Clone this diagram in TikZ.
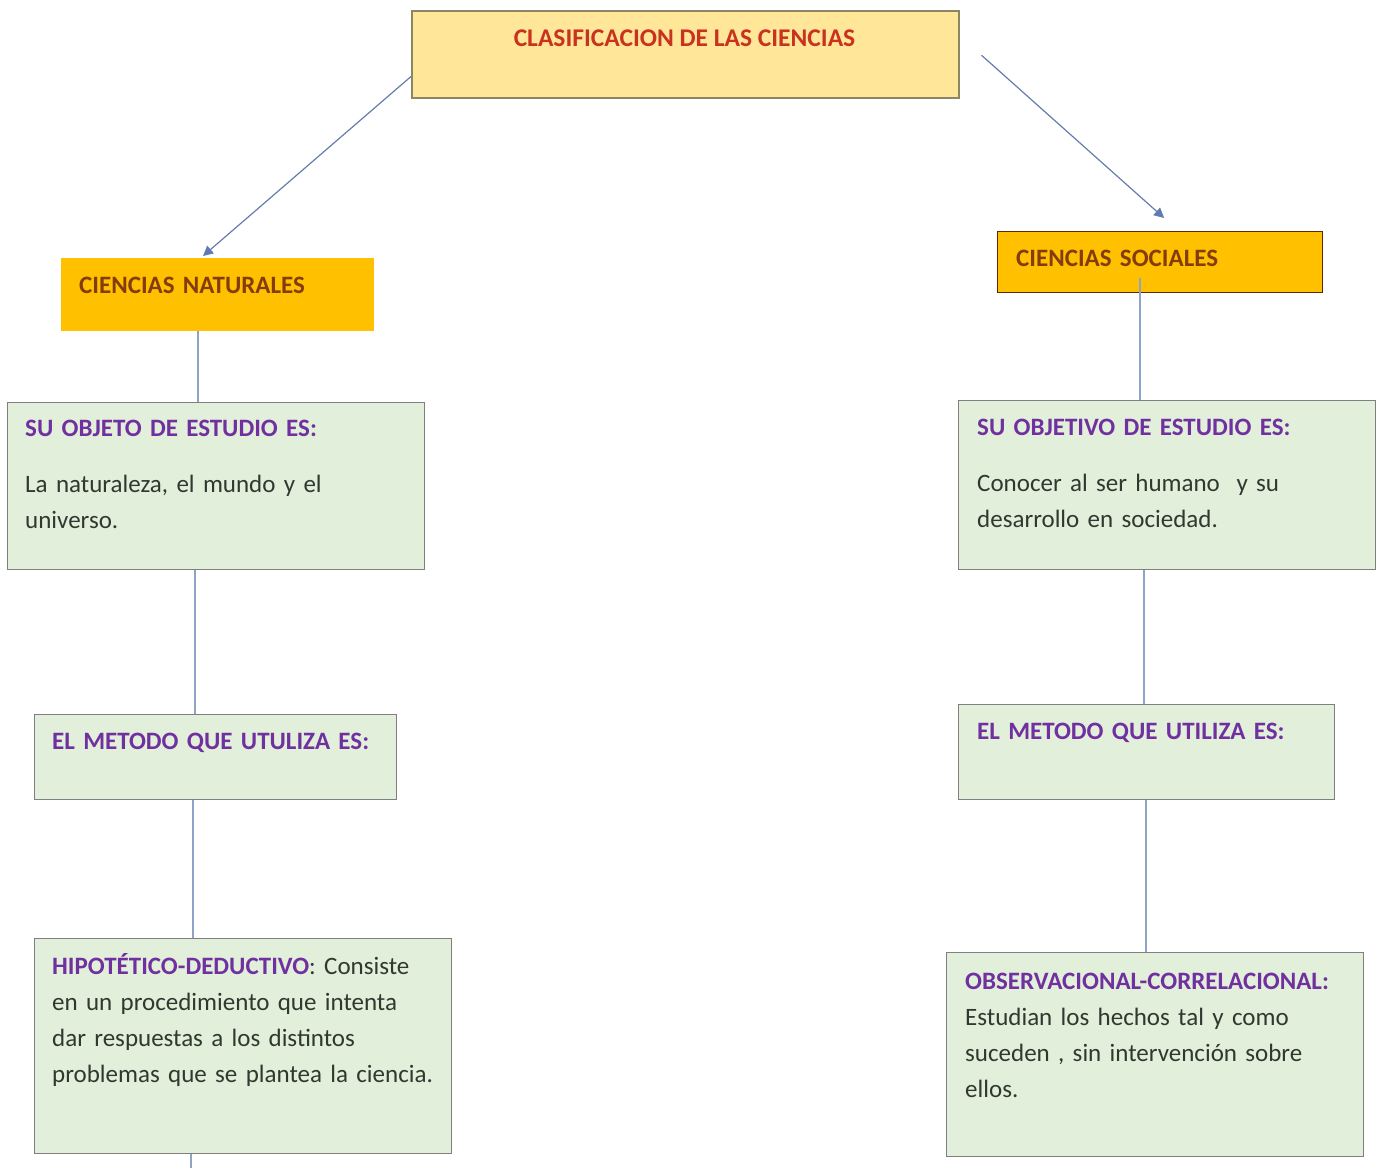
\documentclass[tikz,border=0pt]{standalone}
\usepackage{fontspec}
\setmainfont{Carlito}
\usetikzlibrary{positioning,calc,arrows.meta}
\definecolor{titlefill}{HTML}{FFE699}
\definecolor{titledraw}{HTML}{8C8664}
\definecolor{titletext}{HTML}{C8321E}
\definecolor{orangefill}{HTML}{FFC000}
\definecolor{orangetext}{HTML}{843C0C}
\definecolor{greenfill}{HTML}{E2EFDA}
\definecolor{greendraw}{HTML}{7F7F7F}
\definecolor{headtext}{HTML}{7030A0}
\definecolor{bodytext}{HTML}{303830}
\definecolor{linkline}{HTML}{8FA3C7}
\definecolor{linkarrow}{HTML}{5B7BBF}

\begin{document}
\begin{tikzpicture}[x=1pt, y=-1pt,
    box/.style={rectangle, inner sep=0pt, anchor=north west},
    greenbox/.style={box, fill=greenfill, draw=greendraw, line width=1.2pt},
    orangebox/.style={box, fill=orangefill},
    txt/.style={inner sep=0pt, anchor=base west, text width=#1, align=left,
      font=\fontsize{25}{36}\selectfont, text=bodytext},
    txt/.default=410pt,
    label/.style={txt=300pt, font=\fontsize{25}{36}\selectfont\bfseries, text=orangetext},
    link/.style={draw=linkline, line width=1.2pt},
    arrowlink/.style={draw=linkarrow!70!gray, line width=1.2pt,
      -{Triangle[length=10pt, width=10pt, fill=linkarrow]}}]
  \useasboundingbox (0,0) rectangle (1383,1168);
  % title and the two branches
  \node[box, fill=titlefill, draw=titledraw, line width=1.5pt,
    minimum width=547pt, minimum height=87pt] (titulo) at (411,10) {};
  \node[inner sep=0pt, anchor=base, font=\fontsize{25.5}{36}\selectfont\bfseries,
    text=titletext] (titulotxt) at (684.5,46) {CLASIFICACION DE LAS CIENCIAS};
  \node[orangebox, minimum width=313pt, minimum height=73pt] (nat) at (61,258) {};
  \node[label] (nattxt) at (79,293) {CIENCIAS NATURALES};
  \node[orangebox, draw=orangetext!70!black, line width=1.2pt,
    minimum width=325pt, minimum height=61pt] (soc) at (997,231) {};
  \node[label] (soctxt) at (1016,266) {CIENCIAS SOCIALES};
  % left column
  \node[greenbox, minimum width=417pt, minimum height=167pt] (natobj) at (7,402) {};
  \node[txt] (natobjtxt) at (25,436) {\textcolor{headtext}{\bfseries SU OBJETO DE ESTUDIO ES:}\\[20pt]
    La naturaleza, el mundo y el\\universo.};
  \node[greenbox, minimum width=362pt, minimum height=85pt] (natmet) at (34,714) {};
  \node[txt] (natmettxt) at (52,749) {\textcolor{headtext}{\bfseries EL METODO QUE UTULIZA ES:}};
  \node[greenbox, minimum width=417pt, minimum height=215pt] (nathip) at (34,938) {};
  \node[txt] (nathiptxt) at (52,974) {\textcolor{headtext}{\bfseries HIPOTÉTICO-DEDUCTIVO}: Consiste\\
    en un procedimiento que intenta\\dar respuestas a los distintos\\
    problemas que se plantea la ciencia.};
  % right column
  \node[greenbox, minimum width=417pt, minimum height=169pt] (socobj) at (958,400) {};
  \node[txt] (socobjtxt) at (977,435) {\textcolor{headtext}{\bfseries SU OBJETIVO DE ESTUDIO ES:}\\[20pt]
    Conocer al ser humano~ y su\\desarrollo en sociedad.};
  \node[greenbox, minimum width=376pt, minimum height=95pt] (socmet) at (958,704) {};
  \node[txt] (socmettxt) at (977,739) {\textcolor{headtext}{\bfseries EL METODO QUE UTILIZA ES:}};
  \node[greenbox, minimum width=417pt, minimum height=204pt] (socobs) at (946,952) {};
  \node[txt] (socobstxt) at (965,989) {\textcolor{headtext}{\bfseries OBSERVACIONAL-CORRELACIONAL:}\\
    Estudian los hechos tal y como\\suceden , sin intervención sobre\\ellos.};
  % connectors
  \draw[arrowlink] ($(titulo.south west)+(0,-22)$) -- ($(nat.north west)+(142,-2)$);
  \draw[arrowlink] ($(titulo.east)+(22,1)$) -- ($(soc.north)+(4,-13)$);
  \coordinate (l1) at (198,0);
  \coordinate (l2) at (195,0);
  \coordinate (l3) at (193,0);
  \coordinate (fin) at (191,1168);
  \draw[link] (nat.south -| l1) -- (natobj.north -| l1);
  \draw[link] (natobj.south -| l2) -- (natmet.north -| l2);
  \draw[link] (natmet.south -| l3) -- (nathip.north -| l3);
  \draw[link] (nathip.south -| fin) -- (fin);
  \coordinate (r0) at (1140,278);
  \coordinate (r2) at (1144,0);
  \coordinate (r3) at (1146,0);
  \draw[link] (r0) -- (socobj.north -| r0);
  \draw[link] (socobj.south -| r2) -- (socmet.north -| r2);
  \draw[link] (socmet.south -| r3) -- (socobs.north -| r3);
\end{tikzpicture}
\end{document}
